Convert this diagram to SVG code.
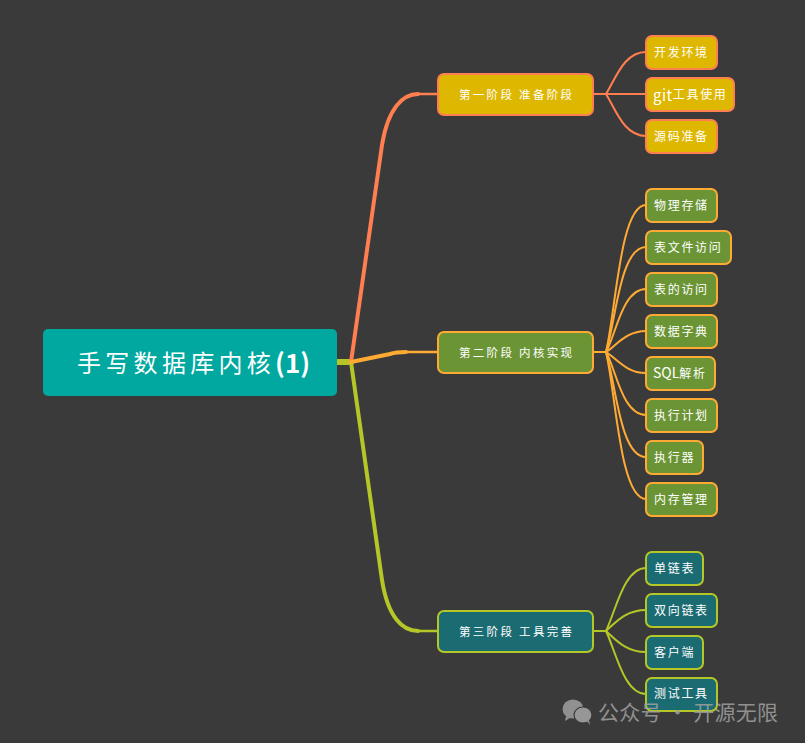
<svg xmlns="http://www.w3.org/2000/svg" width="805" height="743" viewBox="0 0 805 743">
<style>
text{font-family:"Noto Sans CJK SC","Noto Sans",sans-serif;fill:#fff;dominant-baseline:central}
.leaf{font-size:12px;letter-spacing:1.7px}
.mid{font-size:11.5px;letter-spacing:2.3px}
.root{font-size:24px;letter-spacing:4.3px}
.wm{font-size:21px;letter-spacing:0.3px}
.c{fill:none;stroke-linecap:round}
.o{stroke:#ff7f50}.y{stroke:#ffaa33}.g{stroke:#b5c727}
rect.n{stroke-width:2}
rect.a{fill:#deb700;stroke:#ff7f50}
rect.b{fill:#6b9535;stroke:#ffaa33}
rect.d{fill:#1b6b73;stroke:#b5c727}
</style>
<rect width="805" height="743" fill="#3a3a3a"/>
<g id="connectors">
<path class="c g" stroke-width="4" d="M351 362L382 580C388 618 403 631 418 631"/>
<path class="c g" stroke-width="2.500" d="M418 631H438"/>
<path class="c" stroke="#b5c727" stroke-width="6" d="M337 362H351" stroke-linecap="butt"/>
<path class="c o" stroke-width="4" d="M351 362L382 145C388 108 403 94 418 94"/>
<path class="c o" stroke-width="2.500" d="M418 94H438"/>
<path class="c y" stroke-width="4" d="M351 362L390 354C396 352 400 352 406 352"/>
<path class="c y" stroke-width="2.500" d="M406 352H438"/>
<g stroke-width="2">
<path class="c o" d="M593 94H606C616 78 624 52 646 52"/>
<path class="c o" d="M593 94H646"/>
<path class="c o" d="M606 94C616 110 624 136 646 136"/>
<path class="c y" d="M593 352H606C616 310 620 205 646 205"/>
<path class="c y" d="M606 352C616 320 620 247 646 247"/>
<path class="c y" d="M606 352C616 335 622 289 646 289"/>
<path class="c y" d="M606 352C616 346 626 331 646 331"/>
<path class="c y" d="M606 352C616 358 626 373 646 373"/>
<path class="c y" d="M606 352C616 369 622 415 646 415"/>
<path class="c y" d="M606 352C616 384 620 457 646 457"/>
<path class="c y" d="M606 352C616 394 620 499 646 499"/>
<path class="c g" d="M593 631H606C616 610 624 568 646 568"/>
<path class="c g" d="M606 631C616 622 626 610 646 610"/>
<path class="c g" d="M606 631C616 640 626 652 646 652"/>
<path class="c g" d="M606 631C616 652 624 694 646 694"/>
</g>
</g>
<g id="root"><rect x="43" y="329" width="294" height="67" rx="5" fill="#00a89f"/><text class="root" x="77" y="361">手写数据库内核<tspan font-size="26" font-weight="700" letter-spacing="0">(1)</tspan></text></g>
<g id="n1"><rect class="n a" x="438" y="74" width="155" height="41" rx="6"/><text class="mid" x="459" y="93.500">第一阶段 准备阶段</text></g>
<g id="n11"><rect class="n a" x="646" y="36" width="71" height="33" rx="6"/><text class="leaf" x="654" y="51">开发环境</text></g>
<g id="n12"><rect class="n a" x="646" y="78" width="88" height="33" rx="6"/><text class="leaf" x="653" y="93.500"><tspan font-size="15" letter-spacing="0.500">git</tspan>工具使用</text></g>
<g id="n13"><rect class="n a" x="646" y="120" width="71" height="33" rx="6"/><text class="leaf" x="654" y="135">源码准备</text></g>
<g id="n2"><rect class="n b" x="438" y="332" width="155" height="41" rx="6"/><text class="mid" x="459" y="351.500">第二阶段 内核实现</text></g>
<g id="n21"><rect class="n b" x="646" y="189" width="71" height="33" rx="6"/><text class="leaf" x="654" y="204">物理存储</text></g>
<g id="n22"><rect class="n b" x="646" y="231" width="85" height="33" rx="6"/><text class="leaf" x="654" y="246">表文件访问</text></g>
<g id="n23"><rect class="n b" x="646" y="273" width="71" height="33" rx="6"/><text class="leaf" x="654" y="288">表的访问</text></g>
<g id="n24"><rect class="n b" x="646" y="315" width="71" height="33" rx="6"/><text class="leaf" x="654" y="330">数据字典</text></g>
<g id="n25"><rect class="n b" x="646" y="357" width="69" height="33" rx="6"/><text class="leaf" x="653" y="372"><tspan font-size="14" letter-spacing="0">SQL</tspan>解析</text></g>
<g id="n26"><rect class="n b" x="646" y="399" width="71" height="33" rx="6"/><text class="leaf" x="654" y="414">执行计划</text></g>
<g id="n27"><rect class="n b" x="646" y="441" width="57" height="33" rx="6"/><text class="leaf" x="654" y="456">执行器</text></g>
<g id="n28"><rect class="n b" x="646" y="483" width="71" height="33" rx="6"/><text class="leaf" x="654" y="498">内存管理</text></g>
<g id="n3"><rect class="n d" x="438" y="611" width="155" height="41" rx="6"/><text class="mid" x="459" y="630.500">第三阶段 工具完善</text></g>
<g id="n31"><rect class="n d" x="646" y="552" width="57" height="33" rx="6"/><text class="leaf" x="654" y="567">单链表</text></g>
<g id="n32"><rect class="n d" x="646" y="594" width="71" height="33" rx="6"/><text class="leaf" x="654" y="609">双向链表</text></g>
<g id="n33"><rect class="n d" x="646" y="636" width="57" height="33" rx="6"/><text class="leaf" x="654" y="651">客户端</text></g>
<g id="n34"><rect class="n d" x="646" y="678" width="71" height="33" rx="6"/><text class="leaf" x="654" y="692">测试工具</text></g>
<g id="watermark" opacity="0.85">
<ellipse cx="573" cy="709" rx="10.500" ry="9.500" fill="#a0a0a0"/>
<path d="M566 716l-1 5 5-3z" fill="#a0a0a0"/>
<ellipse cx="583" cy="715" rx="9" ry="8" fill="#a8a8a8" stroke="#3a3a3a" stroke-width="1.200"/>
<path d="M587 721l3 4-1-5z" fill="#a8a8a8"/>
<text class="wm" x="598" y="711" style="fill:#a0a0a0">公众号 · 开源无限</text>
</g>
</svg>
